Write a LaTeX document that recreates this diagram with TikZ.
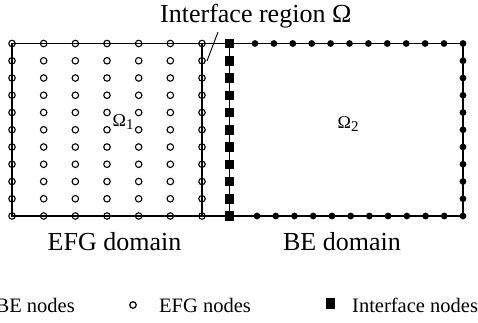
\documentclass[tikz,border=0pt]{standalone}
\usepackage{fontspec}
\setmainfont{Liberation Serif}
\begin{document}
\begin{tikzpicture}[x=1pt,y=-1pt,
  edge/.style={line width=1.3pt},
  efgnode/.style={circle,draw,line width=1.1pt,inner sep=0pt,minimum size=6.5pt},
  benode/.style={circle,fill,inner sep=0pt,minimum size=6.8pt},
  ifnode/.style={rectangle,fill,inner sep=0pt,minimum width=8.5pt,minimum height=9.5pt},
  bigtext/.style={font=\fontsize{26}{30}\selectfont,inner sep=0pt},
  legtext/.style={font=\fontsize{20.5}{24}\selectfont,inner sep=0pt},
  omegatext/.style={font=\fontsize{18}{21}\selectfont,inner sep=0pt}]
\useasboundingbox (0,0) rectangle (478,322);

% domain outlines
\draw[edge] (12,43.5) -- (463,43.5) -- (463,216) -- (12,216) -- cycle;
\draw[edge] (202,43.5) -- (202,216);
\draw[edge] (229.5,43.5) -- (229.5,216);

% EFG nodes: 7 columns x 11 rows
\foreach \i in {0,...,6}
  \foreach \j in {0,...,10}
    \node[efgnode] (efg-\i-\j) at ({12+31.667*\i},{43.5+17.25*\j}) {};

% interface nodes
\foreach \j in {0,...,10}
  \node[ifnode] (if-\j) at (229.5,{43.5+17.25*\j}) {};

% BE nodes on the right edge
\foreach \j in {0,...,10}
  \node[benode] (ber-\j) at (463,{43.5+17.25*\j}) {};
% BE nodes on the top and bottom edges
\foreach \k in {0,...,10} {
  \node[benode] (bet-\k) at ({255+18.9*\k},43.5) {};
  \node[benode] (beb-\k) at ({257+18.73*\k},216) {};
}

% labels
\node[bigtext,anchor=base west] (ireg) at (160,22) {Interface region Ω};
\coordinate (ptr-a) at (218,32);
\coordinate (ptr-b) at (207,61);
\draw[line width=0.9pt] (ptr-a) -- (ptr-b);

\node[omegatext,anchor=base west] (om1) at (112.5,126.5) {Ω\raisebox{-3pt}{\fontsize{15}{17}\selectfont 1}};
\node[omegatext,anchor=base west] (om2) at (337.5,128) {Ω\raisebox{-3.5pt}{\fontsize{15}{17}\selectfont 2}};

\node[bigtext,anchor=base] (efgdom) at (114.5,250) {EFG domain};
\node[bigtext,anchor=base] (bedom) at (342,250) {BE domain};

% legend
\node[legtext,anchor=base east] (leg-be) at (75,312) {BE nodes};
\node[circle,draw,line width=1.2pt,inner sep=0pt,minimum width=6.5pt] (leg-efg-sym) at (133,305) {};
\node[legtext,anchor=base west] (leg-efg) at (159,312) {EFG nodes};
\node[rectangle,fill,inner sep=0pt,minimum width=9pt,minimum height=11pt] (leg-if-sym) at (330,303.5) {};
\node[legtext,anchor=base west] (leg-if) at (352,312) {Interface nodes};
\end{tikzpicture}
\end{document}
